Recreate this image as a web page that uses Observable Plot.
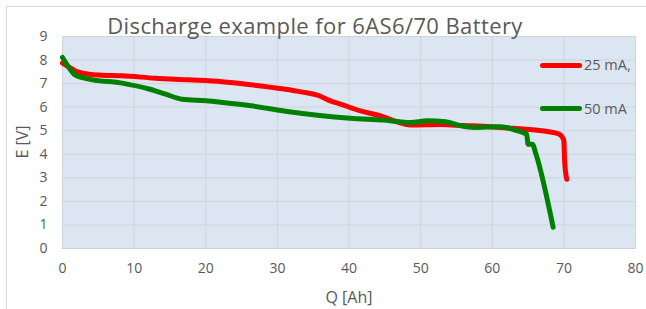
<!DOCTYPE html>
<html><head><meta charset="utf-8">
<script src="https://cdn.jsdelivr.net/npm/d3@7"></script>
<script src="https://cdn.jsdelivr.net/npm/@observablehq/plot@0.6"></script>
<style>
body{margin:0;background:#fff;}
#wrap{position:relative;width:646px;height:309px;overflow:hidden;font-family:"Open Sans",sans-serif;color:#595959;}
#border{position:absolute;left:6px;top:6px;width:800px;height:500px;border:1px solid #d9d9d9;}
#title{position:absolute;left:0;width:630px;top:10px;text-align:center;font-size:22px;letter-spacing:0.4px;line-height:30px;white-space:nowrap;}
.lab{position:absolute;font-size:16px;white-space:nowrap;line-height:20px;}
.leg{position:absolute;left:540px;width:578px;height:0;}
.legline{position:absolute;left:0;width:42px;height:5px;border-radius:3px;top:-2.5px;}
.legtxt{position:absolute;left:44px;top:-10px;font-size:14.5px;line-height:20px;white-space:nowrap;}
#plot{position:absolute;left:0;top:0;}
</style></head><body>
<div id="wrap">
<div id="border"></div>
<div id="plot"></div>
<div id="title"></div>
<div class="lab" id="ylab" style="left:22px;top:142px;transform:translate(-50%,-50%) rotate(-90deg);"></div>
<div class="lab" id="xlab" style="left:349px;top:297px;transform:translate(-50%,-50%);"></div>
<div id="legend"></div>
</div>
<script>
const titleText = "Discharge example for 6AS6/70 Battery";
const xLabel = "Q [Ah]";
const yLabel = "E [V]";
const seriesNames = ["25 mA,", "50 mA"];
const seriesColors = ["#ff0000", "#008000"];
const xTicks = [0, 10, 20, 30, 40, 50, 60, 70, 80];
const yTicks = [0, 1, 2, 3, 4, 5, 6, 7, 8, 9];

const q25 = [0, 0.8, 1.8, 3.7, 5.5, 8.3, 13, 17.6, 22.3, 26.3, 30.9, 33.5, 35.6, 37.4, 38.8, 41.6, 44.4, 46.3, 48.6, 52.8, 56, 59.8, 62, 64.4, 67.7, 69.3, 69.8, 70.0, 70.1, 70.4];
const e25 = [7.87, 7.72, 7.54, 7.40, 7.36, 7.33, 7.23, 7.16, 7.08, 6.95, 6.77, 6.64, 6.51, 6.27, 6.13, 5.84, 5.63, 5.42, 5.24, 5.26, 5.22, 5.17, 5.12, 5.07, 4.97, 4.86, 4.72, 4.57, 3.72, 2.94];

const q50 = [0, 0.9, 1.8, 3.7, 8.3, 12.1, 14.4, 16.7, 20, 22.3, 26.3, 30.9, 35.6, 40.2, 44.9, 48.6, 50.9, 53.5, 55.6, 57.4, 61.2, 63.5, 64.5, 64.8, 65.0, 65.6, 66.1, 68.5];
const e50 = [8.11, 7.68, 7.36, 7.19, 7.02, 6.77, 6.55, 6.34, 6.27, 6.20, 6.06, 5.84, 5.66, 5.53, 5.45, 5.35, 5.42, 5.38, 5.21, 5.14, 5.17, 5.00, 4.90, 4.86, 4.43, 4.43, 4.01, 0.90];

const d25 = q25.map((q, i) => ({q, e: e25[i]}));
const d50 = q50.map((q, i) => ({q, e: e50[i]}));

const chart = Plot.plot({
  width: 646, height: 309,
  marginLeft: 62, marginRight: 11, marginTop: 36, marginBottom: 61,
  x: {domain: [0, 80], label: null},
  y: {domain: [0, 9], label: null},
  style: {background: "transparent", fontFamily: "Open Sans, sans-serif", fontSize: "14px", color: "#595959"},
  marks: [
    Plot.frame({fill: "#dce6f2", stroke: "#d9d9d9"}),
    Plot.gridX(xTicks, {stroke: "#d0d4d9", strokeOpacity: 1}),
    Plot.gridY(yTicks, {stroke: "#d0d4d9", strokeOpacity: 1}),
    Plot.ruleY([0], {stroke: "#cfcfcf", strokeWidth: 1.2}),
    Plot.axisX(xTicks, {tickSize: 0, tickPadding: 15, fill: "#595959", fontSize: 14}),
    Plot.axisY(yTicks, {tickSize: 0, tickPadding: 15, fill: "#595959", fontSize: 14}),
    Plot.line(d25, {x: "q", y: "e", stroke: seriesColors[0], strokeWidth: 5, curve: "monotone-x", strokeLinejoin: "round", strokeLinecap: "round"}),
    Plot.line(d50, {x: "q", y: "e", stroke: seriesColors[1], strokeWidth: 5, curve: "monotone-x", strokeLinejoin: "round", strokeLinecap: "round"})
  ]
});
document.getElementById("plot").appendChild(chart);
document.getElementById("title").textContent = titleText;
document.getElementById("xlab").textContent = xLabel;
document.getElementById("ylab").textContent = yLabel;

const legendTops = [65, 108.5];
const leg = document.getElementById("legend");
seriesNames.forEach((name, i) => {
  const row = document.createElement("div");
  row.className = "leg";
  row.style.top = legendTops[i] + "px";
  const ln = document.createElement("div");
  ln.className = "legline";
  ln.style.background = seriesColors[i];
  const tx = document.createElement("div");
  tx.className = "legtxt";
  tx.textContent = name;
  row.appendChild(ln); row.appendChild(tx);
  leg.appendChild(row);
});
</script>
</body></html>
